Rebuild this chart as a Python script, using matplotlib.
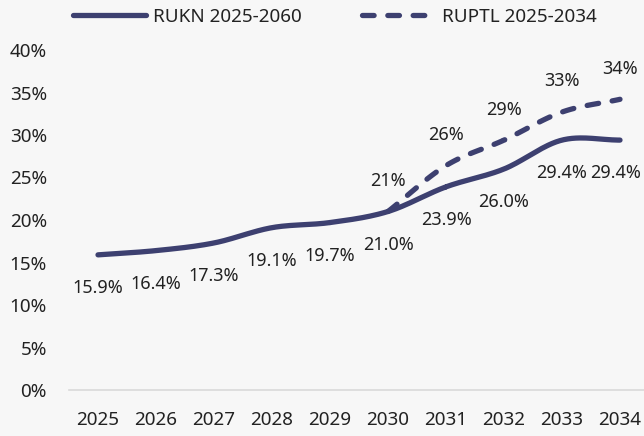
import numpy as np
import matplotlib
matplotlib.use("Agg")
import matplotlib.pyplot as plt
from matplotlib.lines import Line2D

plt.rcParams['font.family'] = ['Noto Sans', 'DejaVu Sans']

years = ['2025', '2026', '2027', '2028', '2029', '2030', '2031', '2032', '2033', '2034']
rukn = [15.9, 16.4, 17.3, 19.1, 19.7, 21.0, 23.9, 26.0, 29.4, 29.4]
ruptl_years = ['2030', '2031', '2032', '2033', '2034']
ruptl = [21.0, 26.4, 29.4, 32.7, 34.2]

navy = '#3d4070'
txt = '#222222'
bg = '#f7f7f7'
fs = 13.6
lfs = 13.0


def smooth(x, y, n=30):
    # catmull-rom, like the smoothed line option in the spreadsheet
    x = np.asarray(x, float)
    y = np.asarray(y, float)
    px = np.concatenate([[2 * x[0] - x[1]], x, [2 * x[-1] - x[-2]]])
    py = np.concatenate([[2 * y[0] - y[1]], y, [2 * y[-1] - y[-2]]])
    xs, ys = [], []
    for i in range(1, len(px) - 2):
        t = np.linspace(0, 1, n)
        for arr, out in ((px, xs), (py, ys)):
            p0, p1, p2, p3 = arr[i - 1:i + 3]
            out.extend(0.5 * ((2 * p1) + (-p0 + p2) * t
                              + (2 * p0 - 5 * p1 + 4 * p2 - p3) * t ** 2
                              + (-p0 + 3 * p1 - 3 * p2 + p3) * t ** 3))
    return np.array(xs), np.array(ys)


fig = plt.figure(figsize=(6.44, 4.36), dpi=100, facecolor=bg)
ax = fig.add_axes([69 / 644, 46 / 436, 580 / 644, 340 / 436], facecolor=bg)

xi = np.arange(len(years))
xr = np.array([years.index(y) for y in ruptl_years])

sx, sy = smooth(xi, rukn)
ax.plot(sx, sy, color=navy, lw=3.8, solid_capstyle='round', zorder=3)
dx, dy = smooth(xr, ruptl)
ax.plot(dx, dy, color=navy, lw=3.8, linestyle=(0, (2.2, 2.6)),
        dash_capstyle='round', zorder=3)

for x, v in zip(xi, rukn):
    off = -3 if x == xi[-1] else 0
    ax.annotate(f'{v:.1f}%', (x, v), xytext=(off, -24), textcoords='offset points',
                ha='center', va='center', fontsize=lfs, color=txt)
for x, v in zip(xr, ruptl):
    ax.annotate(f'{v:.0f}%', (x, v), xytext=(0, 22), textcoords='offset points',
                ha='center', va='center', fontsize=lfs, color=txt)

ax.set_xlim(-0.5, 9.5)
ax.set_ylim(0, 40)
ax.set_xticks(xi)
ax.set_xticklabels(years)
ax.set_yticks(np.arange(0, 41, 5))
ax.set_yticklabels([f'{v}%' for v in range(0, 41, 5)])
ax.tick_params(length=0, labelsize=fs, colors=txt)
ax.tick_params(axis='x', pad=15)
ax.tick_params(axis='y', pad=16)
for s in ['top', 'right', 'left']:
    ax.spines[s].set_visible(False)
ax.spines['bottom'].set_color('#d9d9d9')
ax.spines['bottom'].set_linewidth(1.2)

handles = [Line2D([], [], color=navy, lw=3.8, solid_capstyle='round'),
           Line2D([], [], color=navy, lw=3.8, linestyle=(0, (2.2, 2.6)), dash_capstyle='round')]
fig.legend(handles, ['RUKN 2025-2060', 'RUPTL 2025-2034'], loc='center',
           bbox_to_anchor=(0.52, 1 - 17 / 436), ncol=2, frameon=False,
           fontsize=fs, handlelength=3.9, handletextpad=0.35, columnspacing=3.2,
           labelcolor=txt)

fig.savefig('out.png', dpi=100, facecolor=bg)
